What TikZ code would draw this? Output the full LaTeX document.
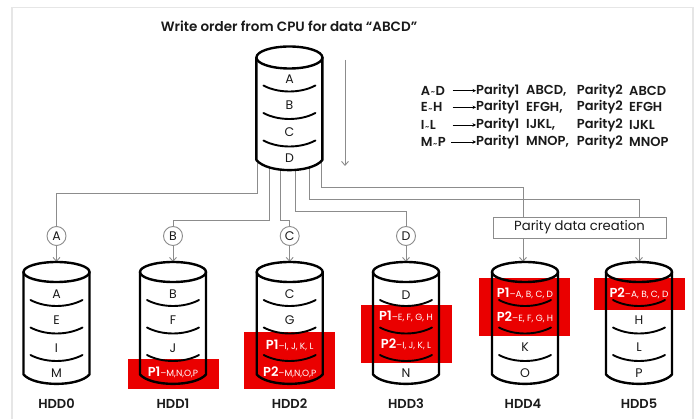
\documentclass[tikz,border=0pt]{standalone}
\usepackage{fontspec}
\setmainfont{Poppins}[BoldFont={Poppins SemiBold}]
\usetikzlibrary{calc,arrows.meta}
\definecolor{ink}{HTML}{1A1A1A}
\definecolor{conn}{HTML}{8C8C8C}
\definecolor{frame}{HTML}{E6E6E6}
\definecolor{redband}{HTML}{EA0000}
\tikzset{
  cylbox/.style={minimum width=66pt,minimum height=126pt,inner sep=0pt,outer sep=0pt},
  cylline/.style={draw=black,line width=2.4pt,line cap=round,line join=round},
  seg/.style={font=\fontsize{12.5}{13}\selectfont,text=ink,inner sep=0pt},
  plabel/.style={font=\fontsize{9}{10}\selectfont,text=white,inner sep=0pt},
  hddlabel/.style={font=\fontsize{13}{14}\selectfont\bfseries,text=ink,inner sep=0pt},
  head/.style={font=\fontsize{13}{14}\selectfont\bfseries,text=ink,inner sep=0pt,anchor=west},
  wire/.style={draw=conn,line width=0.9pt},
  wirearrow/.style={wire,-{Straight Barb[length=4pt,width=7pt,line width=0.9pt]}},
  tagcircle/.style={circle,draw=conn,line width=0.9pt,fill=white,minimum size=19pt,inner sep=0pt,font=\fontsize{12.5}{13}\selectfont,text=ink},
  parityarrow/.style={draw=black,line width=0.9pt,-{Stealth[length=3.5pt,width=3.5pt]}},
  band/.style={fill=redband,draw=none}
}
% name, x, top-centre y, ry
\newcommand{\cylbody}[4]{%
  \node[cylbox,anchor=north] (#1) at (#2,#3-#4) {};
}
\newcommand{\cylfill}[3]{%
  \fill[white] (#1-33,#2) -- (#1-33,#2+102.5) .. controls (#1-22,#2+#3+105) and (#1+22,#2+#3+105) .. (#1+33,#2+102.5) -- (#1+33,#2) -- cycle;
}
\newcommand{\cyloutline}[3]{%
  \draw[cylline] (#1,#2) ellipse [x radius=33,y radius=#3];
  \draw[cylline] (#1-33,#2) -- (#1-33,#2+102.5) .. controls (#1-22,#2+#3+105) and (#1+22,#2+#3+105) .. (#1+33,#2+102.5) -- (#1+33,#2);
  \foreach \s in {28,55.5,83}{
    \draw[line width=1.9pt,line cap=round] (#1-26,#2+\s) .. controls (#1-11,#2+\s+8) and (#1+11,#2+\s+8) .. (#1+26,#2+\s);
  }
}
% name, x, y, P-tag, rest
\newcommand{\plab}[5]{\node[plabel] (#1) at (#2,#3) {{\bfseries\fontsize{13}{13}\selectfont #4}–#5};}
\begin{document}
\begin{tikzpicture}[x=1pt,y=-1pt]
\useasboundingbox (0,0) rectangle (697,419);
\fill[white] (0,0) rectangle (697,419);
\draw[frame,line width=1.8pt] (12,419) -- (12,7.5) -- (693,7.5) -- (693,419);
% title
\node[font=\fontsize{13.5}{14}\selectfont\bfseries,text=ink,inner sep=0pt] (title) at (289,26) {Write order from CPU for data “ABCD”};
% cylinder anchors
\cylbody{main}{289.4}{57.5}{11}
\cylbody{h0}{56.5}{272}{10}
\cylbody{h1}{173}{272}{10}
\cylbody{h2}{289.7}{272}{10}
\cylbody{h3}{406}{272}{10}
\cylbody{h4}{525}{272}{10}
\cylbody{h5}{639}{272}{10}
% tag circles and box
\node[tagcircle] (ca) at (56.5,236) {A};
\node[tagcircle] (cb) at (173,236) {B};
\node[tagcircle] (cc) at (289.7,236) {C};
\node[tagcircle] (cd) at (406,236) {D};
\node[draw=conn,line width=0.9pt,fill=white,minimum width=173pt,minimum height=21pt,inner sep=0pt,font=\fontsize{13.2}{14}\selectfont,text=ink] (parity) at (579.5,227.5) {Parity data creation};
\coordinate (pl) at (523,238);
\coordinate (pr) at (639,238);
% connectors
\draw[wire] ([xshift=-31.7pt,yshift=10pt]main.south) |- (ca.north |- 0,193.3) -- (ca.north);
\draw[wire] ([xshift=-20.4pt,yshift=10pt]main.south) |- (cb.north |- 0,220.7) -- (cb.north);
\draw[wire] ([xshift=-9.2pt,yshift=10pt]main.south) |- (cc.north |- 0,220.7) -- (cc.north);
\draw[wire] ([xshift=5.6pt,yshift=10pt]main.south) |- (cd.north |- 0,211) -- (cd.north);
\draw[wire] ([xshift=19.6pt,yshift=10pt]main.south) |- (pr |- 0,199) -- (pr |- parity.north);
\draw[wire] ([xshift=31.6pt,yshift=10pt]main.south) |- (pl |- 0,187.7) -- (pl |- parity.north);
\draw[wirearrow] (ca.south) -- (ca.south |- h0.north);
\draw[wirearrow] (cb.south) -- (cb.south |- h1.north);
\draw[wirearrow] (cc.south) -- (cc.south |- h2.north);
\draw[wirearrow] (cd.south) -- (cd.south |- h3.north);
\draw[wirearrow] (pl) -- (pl |- h4.north);
\draw[wirearrow] (pr) -- (pr |- h5.north);
\coordinate (ordera) at (345,60);
\coordinate (orderb) at (345,166);
\draw[wirearrow] (ordera) -- (orderb);
% white cylinder bodies
\cylfill{289.4}{57.5}{11}
\cylfill{56.5}{272}{10}
\cylfill{173}{272}{10}
\cylfill{289.7}{272}{10}
\cylfill{406}{272}{10}
\cylfill{525}{272}{10}
\cylfill{639}{272}{10}
% red bands
\fill[band] (128,359) rectangle (219,389);
\fill[band] (244,332) rectangle (335,389);
\fill[band] (361,305) rectangle (452,363);
\fill[band] (479,278) rectangle (570,336);
\fill[band] (594,278) rectangle (685,310);
% cylinder outlines
\cyloutline{289.4}{57.5}{11}
\cyloutline{56.5}{272}{10}
\cyloutline{173}{272}{10}
\cyloutline{289.7}{272}{10}
\cyloutline{406}{272}{10}
\cyloutline{525}{272}{10}
\cyloutline{639}{272}{10}
% main labels
\node[seg] (ma) at (289.5,79) {A};
\node[seg] (mb) at (289.5,105.5) {B};
\node[seg] (mc) at (289.5,132) {C};
\node[seg] (md) at (289.5,158) {D};
% HDD0
\node[seg] (a0) at (56.5,294) {A};
\node[seg] (e0) at (56.5,320.5) {E};
\node[seg] (i0) at (56.5,348) {I};
\node[seg] (m0) at (56.5,373) {M};
% HDD1
\node[seg] (b1) at (173,294) {B};
\node[seg] (f1) at (173,320.5) {F};
\node[seg] (j1) at (173,348) {J};
\plab{p11}{173}{372.5}{P1}{M,N,O,P}
% HDD2
\node[seg] (c2) at (289.7,294) {C};
\node[seg] (g2) at (289.7,320.5) {G};
\plab{p12}{289.7}{345}{P1}{I, J, K, L}
\plab{p22}{289.7}{372}{P2}{M,N,O,P}
% HDD3
\node[seg] (d3) at (406,294.7) {D};
\plab{p13}{406}{316.7}{P1}{E, F, G, H}
\plab{p23}{406}{344.7}{P2}{I, J, K, L}
\node[seg] (n3) at (406,373) {N};
% HDD4
\plab{p14}{525}{293}{P1}{A, B, C, D}
\plab{p24}{525}{317}{P2}{E, F, G, H}
\node[seg] (k4) at (525,347) {K};
\node[seg] (o4) at (525,373) {O};
% HDD5
\plab{p25}{639}{293}{P2}{A, B, C, D}
\node[seg] (h5l) at (639,320) {H};
\node[seg] (l5) at (639,347) {L};
\node[seg] (p5) at (639,373) {P};
% captions
\node[hddlabel] (l0) at (56.5,404) {HDD0};
\node[hddlabel] (l1) at (173,404) {HDD1};
\node[hddlabel] (l2) at (289.5,404) {HDD2};
\node[hddlabel] (l3) at (406,404) {HDD3};
\node[hddlabel] (l4) at (523,404) {HDD4};
\node[hddlabel] (l5x) at (639,404) {HDD5};
% parity table
\node[head] (r1) at (420.7,90.7) {A\raisebox{0.5pt}{\kern0.6pt\scriptsize\textasciitilde\kern0.6pt}D};
\node[head] (r2) at (420.7,107.3) {E\raisebox{0.5pt}{\kern0.6pt\scriptsize\textasciitilde\kern0.6pt}H};
\node[head] (r3) at (420.7,125) {I\raisebox{0.5pt}{\kern0.6pt\scriptsize\textasciitilde\kern0.6pt}L};
\node[head] (r4) at (420.7,142) {M\raisebox{0.5pt}{\kern0.6pt\scriptsize\textasciitilde\kern0.6pt}P};
\node[head] (a1) at (476,90.7) {Parity1};
\node[head] (a2) at (476,107.3) {Parity1};
\node[head] (a3) at (476,125) {Parity1};
\node[head] (a4) at (476,142) {Parity1};
\node[head] (b1x) at (526,90.7) {ABCD,};
\node[head] (b2x) at (526,107.3) {EFGH,};
\node[head] (b3x) at (526,125) {IJKL,};
\node[head] (b4x) at (526,142) {MNOP,};
\node[head] (c1x) at (576.7,90.7) {Parity2};
\node[head] (c2x) at (576.7,107.3) {Parity2};
\node[head] (c3x) at (576.7,125) {Parity2};
\node[head] (c4x) at (576.7,142) {Parity2};
\node[head] (d1x) at (629,90.7) {ABCD};
\node[head] (d2x) at (629,107.3) {EFGH};
\node[head] (d3x) at (629,125) {IJKL};
\node[head] (d4x) at (629,142) {MNOP};
\coordinate (t1) at (452.7,90.7);
\coordinate (t2) at (452.7,107.3);
\coordinate (t3) at (452.7,125);
\coordinate (t4) at (451,142);
\draw[parityarrow] (t1) -- (a1.west);
\draw[parityarrow] (t2) -- (a2.west);
\draw[parityarrow] (t3) -- (a3.west);
\draw[parityarrow] (t4) -- (a4.west);
\end{tikzpicture}
\end{document}
